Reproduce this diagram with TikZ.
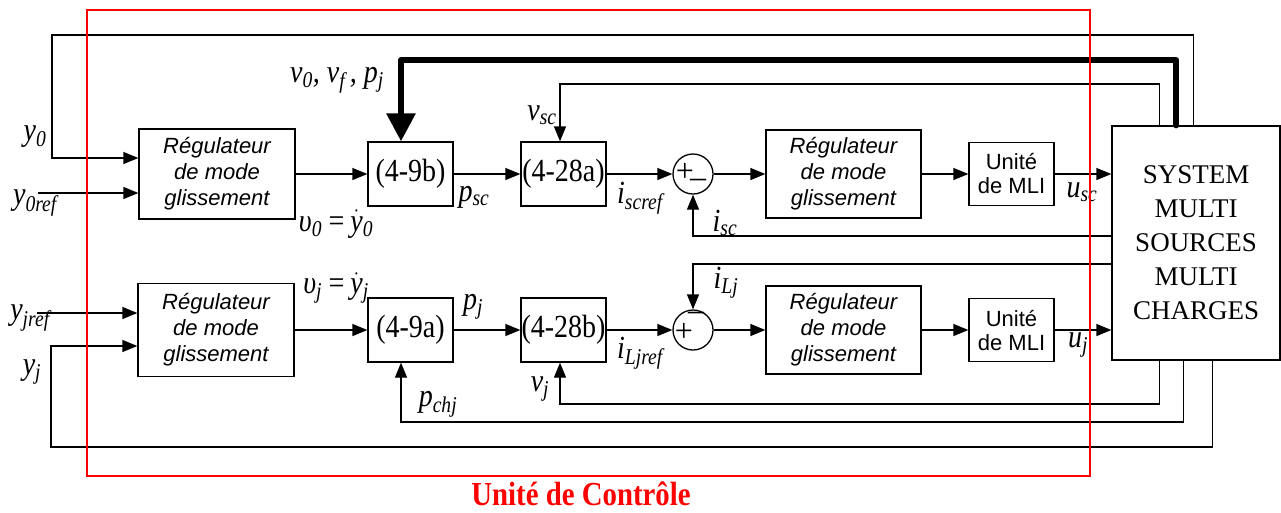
\documentclass[tikz,border=0pt]{standalone}
\usepackage{fontspec}
\setmainfont{Liberation Serif}
\newfontfamily\helv{Liberation Sans}
\usetikzlibrary{arrows.meta}
\newcommand{\tall}[1]{\scalebox{1}[1.15]{#1}}
\begin{document}
\begin{tikzpicture}[x=1pt,y=-1pt, line width=1.3pt,
  blk/.style={draw, line width=1.3pt, inner sep=0pt, align=center},
  regbox/.style={blk, minimum width=156pt, minimum height=90pt, font=\helv\itshape\fontsize{22}{26}\selectfont},
  eqbox/.style={blk, minimum width=85pt, minimum height=64pt, font=\fontsize{28}{30}\selectfont},
  mlibox/.style={blk, minimum width=85pt, minimum height=63pt, font=\helv\fontsize{22}{24}\selectfont},
  sumc/.style={draw, circle, minimum size=40pt, inner sep=0pt},
  arr/.style={-{Triangle[length=15pt,width=12pt]}},
  lab/.style={font=\itshape\fontsize{28}{30}\selectfont, inner sep=0pt},
  sgn/.style={font=\fontsize{32}{32}\selectfont, inner sep=0pt},
  ]
\useasboundingbox (0,0) rectangle (1281,512);
% row 1
\node[regbox] (reg1) at (217,174) {Régulateur\\de mode\\glissement};
\node[eqbox] (e9b) at (410.5,174) {\tall{(4-9b)}};
\node[eqbox] (e28a) at (563.5,174) {\tall{(4-28a)}};
\node[sumc] (s1) at (693,174) {};
\node[regbox, minimum width=155pt, minimum height=88pt] (reg2) at (843.5,174) {Régulateur\\de mode\\glissement};
\node[mlibox] (mli1) at (1011.5,174) {Unité\\de MLI};
\node[blk, minimum width=168pt, minimum height=234pt, font=\fontsize{27}{34}\selectfont] (sys) at (1196,243) {SYSTEM\\MULTI\\SOURCES\\MULTI\\CHARGES};
% row 2
\node[regbox, minimum height=93pt] (reg3) at (216,330) {Régulateur\\de mode\\glissement};
\node[eqbox] (e9a) at (410.5,330) {\tall{(4-9a)}};
\node[eqbox] (e28b) at (563.5,330) {\tall{(4-28b)}};
\node[sumc] (s2) at (693,330) {};
\node[regbox, minimum width=155pt, minimum height=88pt] (reg4) at (843.5,330) {Régulateur\\de mode\\glissement};
\node[mlibox] (mli2) at (1011.5,330) {Unité\\de MLI};
% signs
\node[sgn] (p1) at (685,172) {+};
\node[sgn] (m1) at (698,183) {–};
\node[sgn] (p2) at (684,332) {+};
\node[sgn] (m2) at (696,316) {–};
% forward arrows
\draw[arr] (reg1.east) -- (e9b.west);
\draw[arr] (e9b.east) -- (e28a.west);
\draw[arr] (e28a.east) -- (s1.west);
\draw[arr] (s1.east) -- (reg2.west);
\draw[arr] (reg2.east) -- (mli1.west);
\draw[arr] (mli1.east) -- (mli1.east -| sys.west);
\draw[arr] (reg3.east) -- (e9a.west);
\draw[arr] (e9a.east) -- (e28b.west);
\draw[arr] (e28b.east) -- (s2.west);
\draw[arr] (s2.east) -- (reg4.west);
\draw[arr] (reg4.east) -- (mli2.west);
\draw[arr] (mli2.east) -- (mli2.east -| sys.west);
% inputs
\coordinate (y0ref) at (38,193);
\draw[arr] (y0ref) -- (y0ref -| reg1.west);
\coordinate (yjref) at (37,313);
\draw[arr] (yjref) -- (yjref -| reg3.west);
% feedbacks
\draw[arr] ([xshift=82pt]sys.north west) |- (52,35) |- ([yshift=16pt]reg1.west);
\draw[line width=6pt, line cap=round, line join=round, -{Triangle[length=28pt,width=28pt]}]
  ([xshift=65pt]sys.north west) |- (401,60) -- ([xshift=-9.5pt]e9b.north);
\draw[arr] ([xshift=48pt]sys.north west) |- (560,84) -- ([xshift=-3.5pt]e28a.north);
\draw[arr] ([yshift=7pt]sys.west) -| (s1.south);
\draw[arr] ([yshift=-21pt]sys.west) -| (s2.north);
\draw[arr] ([xshift=48pt]sys.south west) |- (560,404) -- ([xshift=-3.5pt]e28b.south);
\draw[arr] ([xshift=72pt]sys.south west) |- (401,422) -- ([xshift=-9.5pt]e9a.south);
\draw[arr] ([xshift=101pt]sys.south west) |- (51,447) |- ([yshift=-16pt]reg3.west);
% labels
\node[lab] (ly0) at (35,137) {\tall{y\textsubscript{0}}};
\node[lab] (ly0r) at (35,203) {\tall{y\textsubscript{0ref}}};
\node[lab] (lv) at (337,80) {\tall{v\textsubscript{0}, v\textsubscript{f}\,, p\textsubscript{j}}};
\node[lab] (lu0) at (336,224) {\tall{υ\textsubscript{0}\,=\,$\dot{\hbox{y}}$\textsubscript{0}}};
\node[lab] (lvsc) at (542,115) {\tall{v\textsubscript{sc}}};
\node[lab] (lpsc) at (474,197) {\tall{p\textsubscript{sc}}};
\node[lab] (lisr) at (640,198) {\tall{i\textsubscript{scref}}};
\node[lab] (lisc) at (725,223) {\tall{i\textsubscript{sc}}};
\node[lab] (lusc) at (1082,192) {\tall{u\textsubscript{sc}}};
\node[lab] (lyjr) at (30,318) {\tall{y\textsubscript{jref}}};
\node[lab] (lyj) at (32,372) {\tall{y\textsubscript{j}}};
\node[lab] (luj) at (336,288) {\tall{υ\textsubscript{j}\,=\,$\dot{\hbox{y}}$\textsubscript{j}}};
\node[lab] (lpj) at (473,307) {\tall{p\textsubscript{j}}};
\node[lab] (lilr) at (640,353) {\tall{i\textsubscript{Ljref}}};
\node[lab] (lilj) at (726,283) {\tall{i\textsubscript{Lj}}};
\node[lab] (lvj) at (540,389) {\tall{v\textsubscript{j}}};
\node[lab] (lpch) at (438,404) {\tall{p\textsubscript{chj}}};
\node[lab] (lujj) at (1078,345) {\tall{u\textsubscript{j}}};
% control unit
\draw[red, line width=1.5pt] (87,10) rectangle (1090,476);
\node[text=red, font=\bfseries\fontsize{32}{34}\selectfont, inner sep=0pt] (uc) at (581,494) {\scalebox{0.9}[1.05]{Unité de Contrôle}};
\end{tikzpicture}
\end{document}
